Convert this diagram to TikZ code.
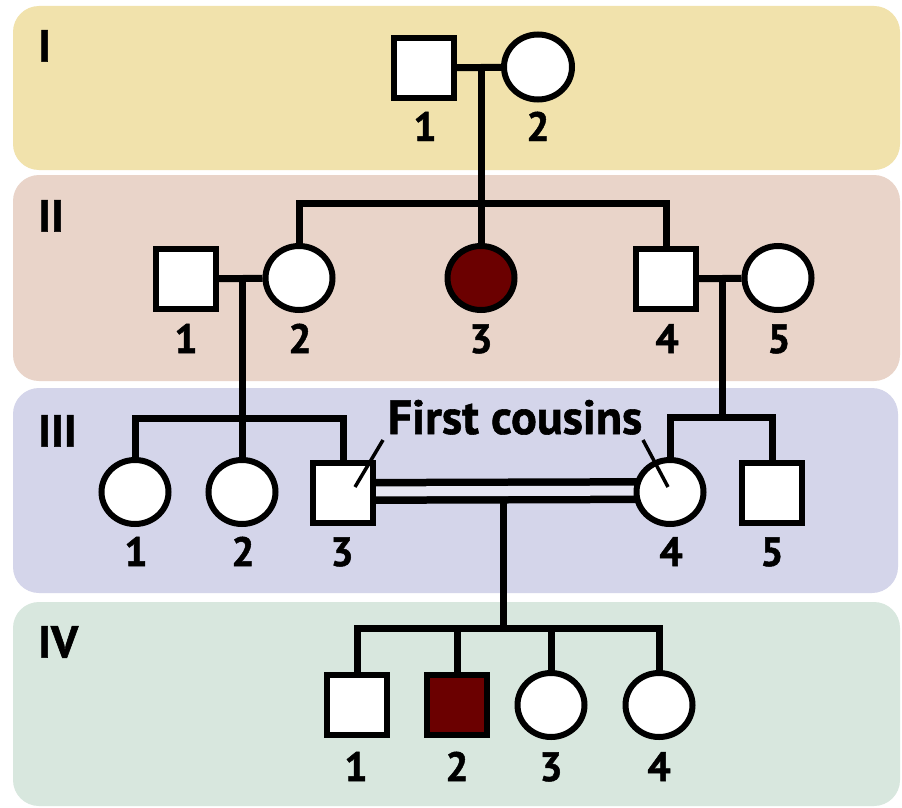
\documentclass[tikz,border=0pt]{standalone}
\usepackage{fontspec}
\setmainfont{PT Sans}[BoldFeatures={FakeBold=1.2}]
\usetikzlibrary{shapes.geometric,calc}
\definecolor{bandI}{HTML}{F1E2AC}
\definecolor{bandII}{HTML}{E9D4C9}
\definecolor{bandIII}{HTML}{D4D5EA}
\definecolor{bandIV}{HTML}{D8E7DE}
\definecolor{maroon}{HTML}{6B0000}
\definecolor{gapcol}{HTML}{E6E6F2}
\pgfdeclarelayer{bandlayer}
\pgfdeclarelayer{linelayer}
\pgfsetlayers{bandlayer,linelayer,main}
\begin{document}
\begin{tikzpicture}[x=1pt,y=-1pt,
  band/.style={rounded corners=26pt},
  male/.style={draw, line width=6pt, fill=white, rectangle, minimum size=60pt, inner sep=0pt},
  female/.style={draw, line width=6pt, fill=white, ellipse, minimum width=67pt, minimum height=64pt, inner sep=0pt},
  affected/.style={fill=maroon},
  link/.style={line width=7pt},
  pointer/.style={line width=3.5pt},
  num/.style={font=\fontsize{41}{43}\selectfont\bfseries, inner sep=0pt, anchor=base},
  gen/.style={font=\fontsize{45}{47}\selectfont\bfseries, inner sep=0pt, anchor=north west},
  cous/.style={font=\fontsize{48}{50}\selectfont\bfseries, inner sep=0pt, anchor=base}]
\useasboundingbox (0,0) rectangle (902,808);
\begin{pgfonlayer}{bandlayer}
  \fill[white] (0,0) rectangle (902,808);
  \fill[band, bandI] (13,6) rectangle (900,170);
  \fill[band, bandII] (13,175) rectangle (900,381);
  \fill[band, bandIII] (13,388) rectangle (898,593);
  \fill[band, bandIV] (13,602) rectangle (900,806);
\end{pgfonlayer}

% generation labels
\node[gen] (gI) at (38,30) {I};
\node[gen] (gII) at (38,200) {II};
\node[gen] (gIII) at (38,415) {III};
\node[gen] (gIV) at (38,626) {IV};

% Generation I
\node[male] (I1) at (424,68) {};
\node[female, minimum width=68pt, minimum height=65pt] (I2) at (538,67) {};
% Generation II
\node[male] (II1) at (186,279) {};
\node[female] (II2) at (299,278) {};
\node[female, affected] (II3) at (481,278) {};
\node[male] (II4) at (666,279) {};
\node[female] (II5) at (778,278) {};
% Generation III
\node[female] (III1) at (135,492) {};
\node[female] (III2) at (242,492) {};
\node[male] (III3) at (343,493) {};
\node[female] (III4) at (670,492) {};
\node[male] (III5) at (772,493) {};
% Generation IV
\node[male] (IV1) at (357,705) {};
\node[male, affected] (IV2) at (457,705) {};
\node[female] (IV3) at (551,705) {};
\node[female] (IV4) at (659,705) {};

% numbers
\node[num] (nI1) at (425,141) {1};
\node[num] (nI2) at (538,141) {2};
\node[num] (nII1) at (186,353) {1};
\node[num] (nII2) at (300,353) {2};
\node[num] (nII3) at (481,353) {3};
\node[num] (nII4) at (667,353) {4};
\node[num] (nII5) at (779,353) {5};
\node[num] (nIII1) at (136,566) {1};
\node[num] (nIII2) at (243,566) {2};
\node[num] (nIII3) at (342,566) {3};
\node[num] (nIII4) at (671,566) {4};
\node[num] (nIII5) at (772,566) {5};
\node[num] (nIV1) at (356,781) {1};
\node[num] (nIV2) at (457,781) {2};
\node[num] (nIV3) at (551,781) {3};
\node[num] (nIV4) at (659,781) {4};

\node[cous] (fc) at (515,434) {First cousins};

% junction coordinates
\coordinate (dI) at (481,68);
\coordinate (sII) at (481,203);
\coordinate (dIIa) at (242,277);
\coordinate (sIIIa) at (242,418);
\coordinate (dIIb) at (722,277);
\coordinate (sIIIb) at (722,417);
\coordinate (dIII) at (503,499);
\coordinate (sIV) at (503,628);

\begin{pgfonlayer}{linelayer}
  \draw[link] (I1) -- (I2);
  \draw[link] (dI) -- (II3.center);
  \draw[link, line join=miter] (II2.center) |- (sII) -| (II4.center);
  \draw[link] (II1) -- (II2);
  \draw[link] (II4) -- (II5);
  \draw[link] (dIIa) -- (III2.center);
  \draw[link, line join=miter] (III1.center) |- (sIIIa) -| (III3.center);
  \draw[link] (dIIb) -- (sIIIb);
  \draw[link, line join=miter] (III4.center) |- (sIIIb) -| (III5.center);
  \draw[line width=7.5pt, double=gapcol, double distance=10pt] ($(III3.center)+(0,-1.5)$) -- ($(III4.center)+(0,-1.5)$);
  \draw[link] (dIII) -- (sIV);
  \draw[link, line join=miter] (IV1.center) |- (sIV) -| (IV4.center);
  \draw[link] (IV2.center) -- (IV2 |- sIV);
  \draw[link] (IV3.center) -- (IV3 |- sIV);
\end{pgfonlayer}

% pointers
\coordinate (pLa) at (383,440);
\coordinate (pLb) at (355,487);
\coordinate (pRa) at (643,440);
\coordinate (pRb) at (668,487);
\draw[pointer] (pLa) -- (pLb);
\draw[pointer] (pRa) -- (pRb);
\end{tikzpicture}
\end{document}
